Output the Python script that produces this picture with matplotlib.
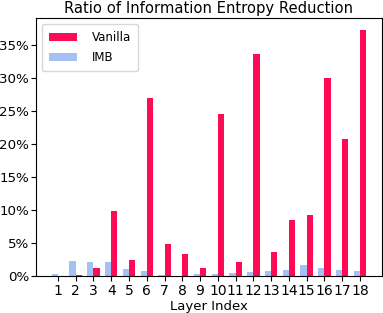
import matplotlib
matplotlib.use("Agg")
import matplotlib.pyplot as plt
import matplotlib.ticker as mtick
import numpy as np

layers = list(range(1, 19))
vanilla = [0.0, 0.2, 1.2, 9.8, 2.4, 26.9, 4.8, 3.3, 1.2, 24.6,
           2.2, 33.7, 3.6, 8.5, 9.2, 30.0, 20.8, 37.2]
imb = [0.25, 2.3, 2.2, 2.1, 1.05, 0.7, 0.1, 0.05, 0.25, 0.35,
       0.45, 0.6, 0.75, 0.95, 1.75, 1.2, 0.85, 0.7]

x = np.array(layers)
w = 0.35

fig = plt.figure(figsize=(3.83, 3.13), dpi=100)
ax = fig.add_axes([0.094, 0.118, 0.903, 0.824])
ax.bar(x + w / 2, vanilla, w, color='#ff0a54', label='Vanilla')
ax.bar(x - w / 2, imb, w, color='#a4c1f6', label='IMB')
ax.yaxis.set_major_formatter(mtick.PercentFormatter(decimals=0))
ax.set_xticks(x)
ax.set_xticklabels([str(i) for i in layers])
ax.tick_params(axis='x', labelsize=10, pad=2.5)
ax.tick_params(axis='y', labelsize=9.6, pad=1.5)
ax.set_xlabel('Layer Index', fontsize=9.5, labelpad=1.5)
ax.set_title('Ratio of Information Entropy Reduction', fontsize=10.6, pad=3.5)
ax.legend(loc='upper left', fontsize=8.5, handlelength=2.4, labelspacing=0.6,
          borderpad=0.6, handletextpad=1.2)

fig.savefig('out.png', dpi=100)
